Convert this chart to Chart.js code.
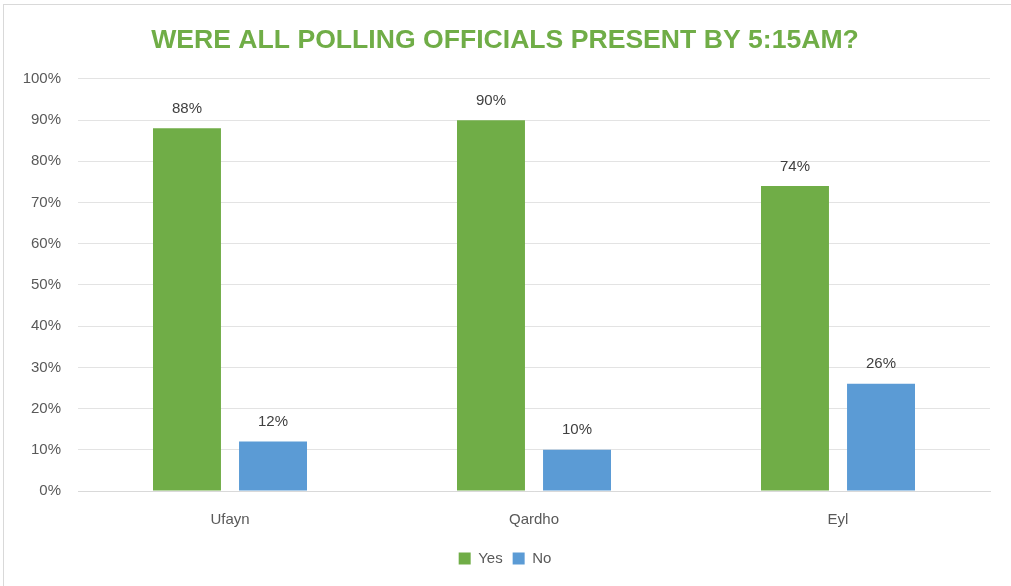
<!DOCTYPE html>
<html lang="en">
<head>
  <meta charset="UTF-8">
  <title>Polling Officials Present by 5:15AM</title>
  <script src="https://cdn.jsdelivr.net/npm/chart.js"></script>
  <style>
    body {
      margin: 0;
      background: #ffffff;
      overflow: hidden;
    }
    .frame {
      position: absolute;
      left: 3px;
      top: 4px;
      width: 1030px;
      height: 620px;
      border: 1px solid #d9d9d9;
    }
    .wrap {
      position: absolute;
      left: 0;
      top: 0;
      width: 1011px;
      height: 586px;
    }
  </style>
</head>
<body>
  <div class="frame"></div>
  <div class="wrap">
    <canvas id="pollChart" width="1011" height="586"></canvas>
  </div>

  <script>
    const districts = ['Ufayn', 'Qardho', 'Eyl'];
    const yesValues = [88, 90, 74];
    const noValues = [12, 10, 26];
    const yTicks = [0, 10, 20, 30, 40, 50, 60, 70, 80, 90, 100];

    // value labels above each bar
    const barLabels = {
      id: 'barLabels',
      afterDatasetsDraw(chart) {
        const ctx = chart.ctx;
        ctx.save();
        ctx.font = '15px "Liberation Sans", Arial, sans-serif';
        ctx.fillStyle = '#404040';
        ctx.textAlign = 'center';
        ctx.textBaseline = 'bottom';
        chart.data.datasets.forEach((ds, i) => {
          chart.getDatasetMeta(i).data.forEach((bar, j) => {
            ctx.fillText(ds.data[j] + '%', bar.x, bar.y - 12);
          });
        });
        ctx.restore();
      }
    };

    const ctx = document.getElementById('pollChart').getContext('2d');
    new Chart(ctx, {
      type: 'bar',
      data: {
        labels: districts,
        datasets: [
          { label: 'Yes', data: yesValues, backgroundColor: '#70ad47' },
          { label: 'No', data: noValues, backgroundColor: '#5b9bd5' }
        ]
      },
      options: {
        responsive: false,
        animation: false,
        categoryPercentage: 0.566,
        barPercentage: 0.79,
        layout: { padding: { left: 20, right: 21, top: 0, bottom: 10 } },
        plugins: {
          title: {
            display: true,
            text: 'WERE ALL POLLING OFFICIALS PRESENT BY 5:15AM?',
            color: '#70ad47',
            font: { family: '"Liberation Sans", Arial, sans-serif', size: 26.6, weight: 'bold' },
            padding: { top: 25, bottom: 22 }
          },
          legend: {
            position: 'bottom',
            labels: {
              boxWidth: 12,
              boxHeight: 12,
              color: '#595959',
              padding: 10,
              font: { family: '"Liberation Sans", Arial, sans-serif', size: 15 }
            }
          },
          tooltip: { enabled: false }
        },
        scales: {
          x: {
            grid: { display: false },
            border: { color: '#d9d9d9', width: 1 },
            ticks: {
              color: '#595959',
              padding: 12,
              font: { family: '"Liberation Sans", Arial, sans-serif', size: 15 }
            },
            afterFit(scale) { scale.height = 50; }
          },
          y: {
            min: 0,
            max: 100,
            afterBuildTicks(scale) { scale.ticks = yTicks.map(v => ({ value: v })); },
            grid: { color: '#e3e3e3', drawTicks: false },
            border: { display: false },
            ticks: {
              color: '#595959',
              padding: 17,
              font: { family: '"Liberation Sans", Arial, sans-serif', size: 15 },
              callback: v => v + '%'
            },
            afterFit(scale) { scale.width = 58; }
          }
        }
      },
      plugins: [barLabels]
    });
  </script>
</body>
</html>
